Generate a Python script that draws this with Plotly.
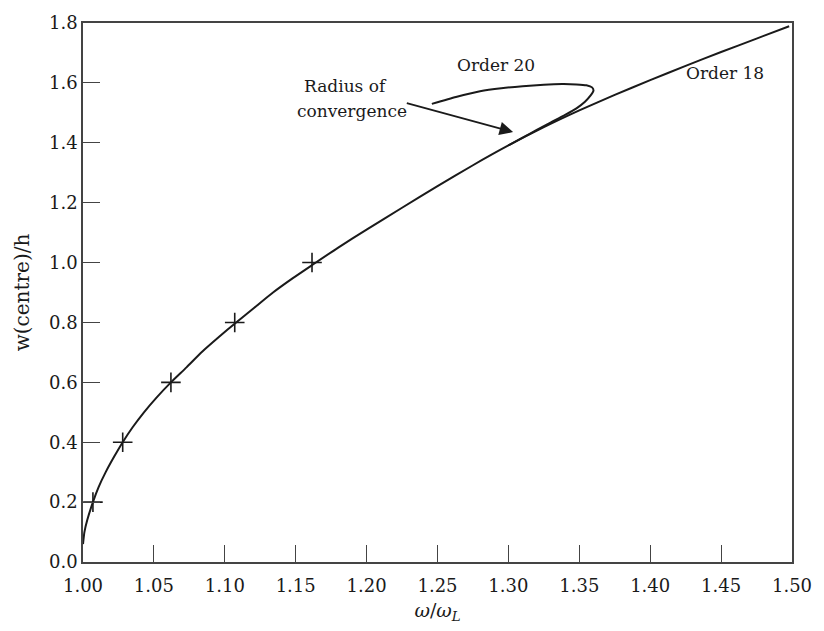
import plotly.graph_objects as go

# Order 18 solution curve: frequency ratio vs centre amplitude
order18_x = [1.000, 1.001, 1.003, 1.007, 1.011, 1.016, 1.022, 1.028, 1.035, 1.043,
             1.052, 1.062, 1.073, 1.084, 1.096, 1.108, 1.121, 1.134, 1.148, 1.162,
             1.180, 1.200, 1.225, 1.250, 1.275, 1.300, 1.325, 1.350, 1.375, 1.400,
             1.425, 1.450, 1.475, 1.498]
order18_y = [0.060, 0.100, 0.140, 0.200, 0.250, 0.300, 0.352, 0.400, 0.450, 0.500,
             0.550, 0.600, 0.650, 0.702, 0.752, 0.800, 0.850, 0.900, 0.948, 0.993,
             1.050, 1.110, 1.183, 1.255, 1.325, 1.391, 1.452, 1.508, 1.560, 1.609,
             1.657, 1.703, 1.748, 1.789]

# Order 20 branch, departing from the order 18 curve beyond the radius of convergence
order20_x = [1.300, 1.310, 1.320, 1.330, 1.340, 1.348, 1.354, 1.358, 1.360, 1.359,
             1.355, 1.348, 1.338, 1.325, 1.310, 1.295, 1.280, 1.263, 1.246]
order20_y = [1.391, 1.417, 1.443, 1.468, 1.493, 1.515, 1.537, 1.558, 1.574, 1.585,
             1.592, 1.595, 1.596, 1.594, 1.589, 1.582, 1.572, 1.553, 1.530]

# Reference points
ref_x = [1.007, 1.028, 1.062, 1.107, 1.1615]
ref_y = [0.2, 0.4, 0.6, 0.8, 1.0]

x_ticks = [1.00, 1.05, 1.10, 1.15, 1.20, 1.25, 1.30, 1.35, 1.40, 1.45, 1.50]
y_ticks = [0.0, 0.2, 0.4, 0.6, 0.8, 1.0, 1.2, 1.4, 1.6, 1.8]

FONT = "DejaVu Serif"
INK = "#1a1a1a"
AXIS = "#444444"

fig = go.Figure()
fig.add_trace(go.Scatter(x=order18_x, y=order18_y, mode="lines",
                         line=dict(color=INK, width=2, shape="spline", smoothing=0.6),
                         hoverinfo="skip", showlegend=False))
fig.add_trace(go.Scatter(x=order20_x, y=order20_y, mode="lines",
                         line=dict(color=INK, width=2, shape="spline", smoothing=0.5),
                         hoverinfo="skip", showlegend=False))
fig.add_trace(go.Scatter(x=ref_x, y=ref_y, mode="markers",
                         marker=dict(symbol="cross-thin-open", size=14, color=INK,
                                     line=dict(color=INK, width=1.6)),
                         showlegend=False))

fig.add_annotation(x=1.3033, y=1.4356, ax=1.2273, ay=1.534,
                   xref="x", yref="y", axref="x", ayref="y",
                   showarrow=True, arrowhead=2, arrowsize=1.5, arrowwidth=1.8,
                   arrowcolor=INK, text="")
fig.add_annotation(x=1.1853, y=1.590, text="Radius of", showarrow=False,
                   xanchor="center", yanchor="middle",
                   font=dict(family=FONT, size=17, color=INK))
fig.add_annotation(x=1.1900, y=1.505, text="convergence", showarrow=False,
                   xanchor="center", yanchor="middle",
                   font=dict(family=FONT, size=17, color=INK))
fig.add_annotation(x=1.2910, y=1.660, text="Order 20", showarrow=False,
                   xanchor="center", yanchor="middle",
                   font=dict(family=FONT, size=17, color=INK))
fig.add_annotation(x=1.4530, y=1.634, text="Order 18", showarrow=False,
                   xanchor="center", yanchor="middle",
                   font=dict(family=FONT, size=17, color=INK))

fig.update_layout(
    width=824, height=631,
    margin=dict(l=83, r=26, t=14, b=69),
    plot_bgcolor="white", paper_bgcolor="white",
    font=dict(family=FONT, size=18, color=INK),
    xaxis=dict(range=[1.0, 1.5], tickvals=x_ticks,
               ticktext=[f"{v:.2f}" for v in x_ticks],
               ticks="inside", ticklen=17, tickwidth=1.3, tickcolor=AXIS,
               showline=True, linecolor=AXIS, linewidth=1.5, mirror=True,
               showgrid=False, zeroline=False, ticklabelstandoff=7,
               tickfont=dict(family=FONT, size=18, color=INK),
               title=dict(text="<i>ω</i>/<i>ω</i><sub><i>L</i></sub>",
                          font=dict(family=FONT, size=19), standoff=8)),
    yaxis=dict(range=[0.0, 1.8], tickvals=y_ticks,
               ticktext=[f"{v:.1f}" for v in y_ticks],
               ticks="inside", ticklen=17, tickwidth=1.3, tickcolor=AXIS,
               showline=True, linecolor=AXIS, linewidth=1.5, mirror=True,
               showgrid=False, zeroline=False,
               tickfont=dict(family=FONT, size=18, color=INK),
               title=dict(text="w(centre)/h", font=dict(family=FONT, size=20),
                          standoff=14)),
)

fig.write_html("out.html")
